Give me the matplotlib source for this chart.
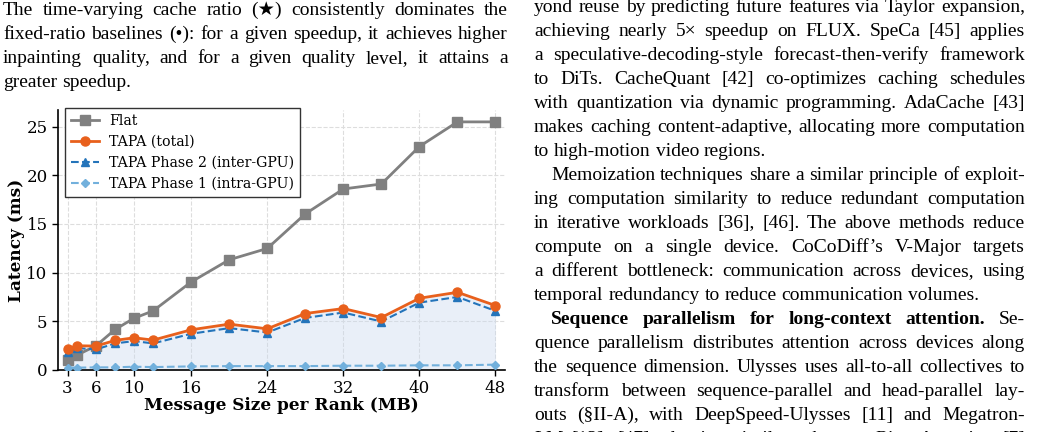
import matplotlib
matplotlib.use('Agg')
import matplotlib.pyplot as plt

# message size per rank (MB)
sizes = [3, 4, 6, 8, 10, 12, 16, 20, 24, 28, 32, 36, 40, 44, 48]
flat = [1.06, 1.53, 2.49, 4.16, 5.32, 6.07, 9.04, 11.32, 12.48, 16.03, 18.59, 19.1, 22.95, 25.48, 25.48]
tapa_total = [2.11, 2.49, 2.46, 3.04, 3.31, 3.07, 4.13, 4.71, 4.23, 5.8, 6.31, 5.39, 7.37, 7.98, 6.62]
phase2 = [1.88, 2.25, 2.11, 2.73, 2.97, 2.73, 3.72, 4.3, 3.85, 5.35, 5.9, 4.98, 6.92, 7.5, 6.07]
phase1 = [0.24, 0.24, 0.27, 0.27, 0.34, 0.3, 0.37, 0.4, 0.4, 0.4, 0.44, 0.44, 0.48, 0.48, 0.55]
xticks = [3, 6, 10, 16, 24, 32, 40, 48]
yticks = [0, 5, 10, 15, 20, 25]

labels = ['Flat', 'TAPA (total)', 'TAPA Phase 2 (inter-GPU)', 'TAPA Phase 1 (intra-GPU)']

# surrounding paper text, '*' marks a bold word
left_lines = [
    "The time-varying cache ratio (\u2605) consistently dominates the",
    "fixed-ratio baselines (\u2022): for a given speedup, it achieves higher",
    "inpainting quality, and for a given quality level, it attains a",
    "greater speedup.",
]
right_lines = [
    "yond reuse by predicting future features via Taylor expansion,",
    "achieving nearly 5\u00d7 speedup on FLUX. SpeCa [45] applies",
    "a speculative-decoding-style forecast-then-verify framework",
    "to DiTs. CacheQuant [42] co-optimizes caching schedules",
    "with quantization via dynamic programming. AdaCache [43]",
    "makes caching content-adaptive, allocating more computation",
    "to high-motion video regions.",
    "Memoization techniques share a similar principle of exploit-",
    "ing computation similarity to reduce redundant computation",
    "in iterative workloads [36], [46]. The above methods reduce",
    "compute on a single device. CoCoDiff\u2019s V-Major targets",
    "a different bottleneck: communication across devices, using",
    "temporal redundancy to reduce communication volumes.",
    "*Sequence *parallelism *for *long-context *attention. Se-",
    "quence parallelism distributes attention across devices along",
    "the sequence dimension. Ulysses uses all-to-all collectives to",
    "transform between sequence-parallel and head-parallel lay-",
    "outs (\u00a7II-A), with DeepSpeed-Ulysses [11] and Megatron-",
    "LM [13], [47] adopting similar schemes. Ring-Attention [7]",
]
right_last = {6, 12}
right_indent = {7, 13}

W, H = 1042, 432
fig = plt.figure(figsize=(W / 100, H / 100), dpi=100)
r = fig.canvas.get_renderer()

FS = 14
serif = ['Liberation Serif', 'DejaVu Sans']


def draw_line(line, x0, x1, base, justify):
    words = line.split(' ')
    objs = []
    for w in words:
        bold = w.startswith('*')
        w = w.lstrip('*')
        t = fig.text(0, 1 - base / H, w, fontsize=FS, family=serif,
                     weight='bold' if bold else 'normal', va='baseline', ha='left')
        objs.append(t)
    widths = [t.get_window_extent(renderer=r).width for t in objs]
    if justify and len(objs) > 1:
        gap = (x1 - x0 - sum(widths)) / (len(objs) - 1)
    else:
        gap = FS * 100 / 72 * 0.25
    x = x0
    for t, wd in zip(objs, widths):
        t.set_x(x / W)
        x += wd + gap


for i, line in enumerate(left_lines):
    draw_line(line, 3, 508, 15 + 24 * i, i < len(left_lines) - 1)

for i, line in enumerate(right_lines):
    x0 = 551 if i in right_indent else 534
    draw_line(line, x0, 1025, 12 + 24 * i, i not in right_last)

# chart
plt.rcParams['font.family'] = 'DejaVu Serif'
ax = fig.add_axes([58 / W, 1 - 370 / H, 447 / W, 260 / H])

ax.fill_between(sizes, 0, tapa_total, color='#c9d8ee', alpha=0.4, lw=0, zorder=1)
ax.plot(sizes, flat, color='#808080', lw=2, marker='s', ms=7, label=labels[0], zorder=3)
ax.plot(sizes, tapa_total, color='#e8601c', lw=2, marker='o', ms=6.5, label=labels[1], zorder=4)
ax.plot(sizes, phase2, color='#2474ba', lw=1.5, ls='--', marker='^', ms=6, label=labels[2], zorder=3)
ax.plot(sizes, phase1, color='#72b0dc', lw=1.5, ls='--', marker='D', ms=4.5, label=labels[3], zorder=3)

ax.set_xlim(2, 49)
ax.set_ylim(0, 26.7)
ax.set_xticks(xticks)
ax.set_yticks(yticks)
ax.tick_params(labelsize=12, length=4, width=1, colors='black')
ax.grid(True, ls='--', color='#dddddd', lw=0.8, zorder=0)
ax.set_axisbelow(True)
for s in ['top', 'right']:
    ax.spines[s].set_visible(False)
for s in ['left', 'bottom']:
    ax.spines[s].set_linewidth(1.2)

ax.set_xlabel('Message Size per Rank (MB)', fontsize=12.2, fontweight='bold', labelpad=0)
ax.set_ylabel('Latency (ms)', fontsize=12.2, fontweight='bold')
ax.yaxis.set_label_coords(-0.074, 0.5)

leg = ax.legend(loc='upper left', bbox_to_anchor=(7 / 447, 1.008), borderaxespad=0,
                fontsize=10.2, handlelength=2.0, handletextpad=0.7, fancybox=False,
                framealpha=1, edgecolor='#333333')
leg.get_frame().set_linewidth(1)

fig.savefig('out.png', dpi=100)
